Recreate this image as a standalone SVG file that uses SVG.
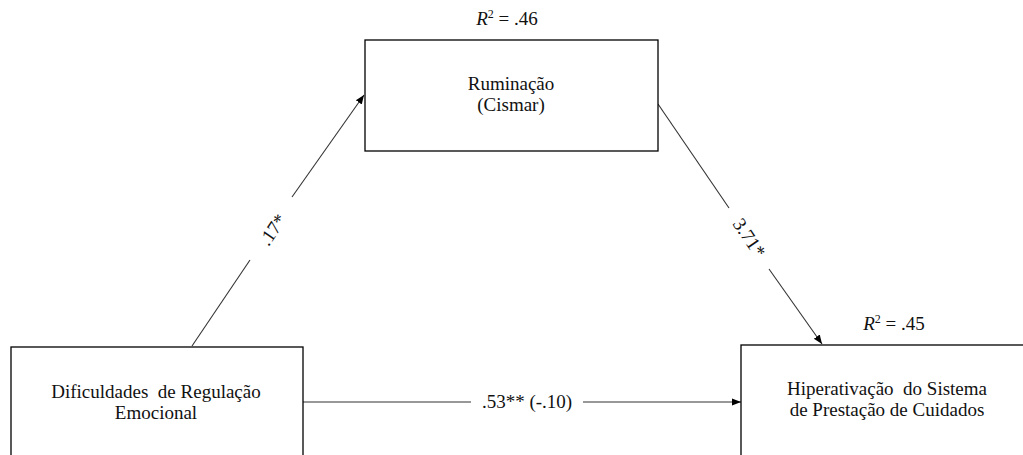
<svg xmlns="http://www.w3.org/2000/svg" width="1023" height="455" viewBox="0 0 1023 455">
<style>
.box{fill:#fff;stroke:#000;stroke-width:1.3}
.t{font-family:"Liberation Serif","Times New Roman",serif;font-size:19px;fill:#111;text-anchor:middle}
.ln{stroke:#333;stroke-width:1.1;fill:none}
</style>
<defs>
<marker id="ah" viewBox="0 0 10 10" refX="10" refY="5" markerWidth="9" markerHeight="9" markerUnits="userSpaceOnUse" orient="auto">
<path d="M0,1 L10,5 L0,9 z" fill="#000"/>
</marker>
</defs>
<rect width="1023" height="455" fill="#fff"/>
<g id="connectors">
<line class="ln" x1="192" y1="346" x2="250" y2="260"/>
<line class="ln" x1="292" y1="197" x2="364" y2="95" marker-end="url(#ah)"/>
<text class="t" transform="translate(273,230) rotate(-55.6)" y="6">.17*</text>
<line class="ln" x1="658" y1="104" x2="729" y2="208"/>
<line class="ln" x1="769" y1="269" x2="822" y2="344" marker-end="url(#ah)"/>
<text class="t" transform="translate(749,238) rotate(55.8)" y="6">3.71*</text>
<line class="ln" x1="303" y1="402" x2="471" y2="402"/>
<line class="ln" x1="583" y1="402" x2="741" y2="402" marker-end="url(#ah)"/>
<text class="t" x="527" y="408">.53** (-.10)</text>
</g>
<g id="node-ruminacao">
<rect class="box" x="365" y="40" width="293" height="111"/>
<text class="t" x="511" y="90">Ruminação</text>
<text class="t" x="511" y="111">(Cismar)</text>
<text class="t" x="507" y="25"><tspan font-style="italic">R</tspan><tspan font-size="12" dy="-7">2</tspan><tspan dy="7"> = .46</tspan></text>
</g>
<g id="node-dificuldades">
<rect class="box" x="11" y="347" width="292" height="120"/>
<text class="t" x="156" y="398" xml:space="preserve">Dificuldades  de Regulação</text>
<text class="t" x="156" y="419">Emocional</text>
</g>
<g id="node-hiperativacao">
<rect class="box" x="741" y="345" width="300" height="120"/>
<text class="t" x="887" y="395" xml:space="preserve">Hiperativação  do Sistema</text>
<text class="t" x="887" y="416">de Prestação de Cuidados</text>
<text class="t" x="894" y="330"><tspan font-style="italic">R</tspan><tspan font-size="12" dy="-7">2</tspan><tspan dy="7"> = .45</tspan></text>
</g>
</svg>
